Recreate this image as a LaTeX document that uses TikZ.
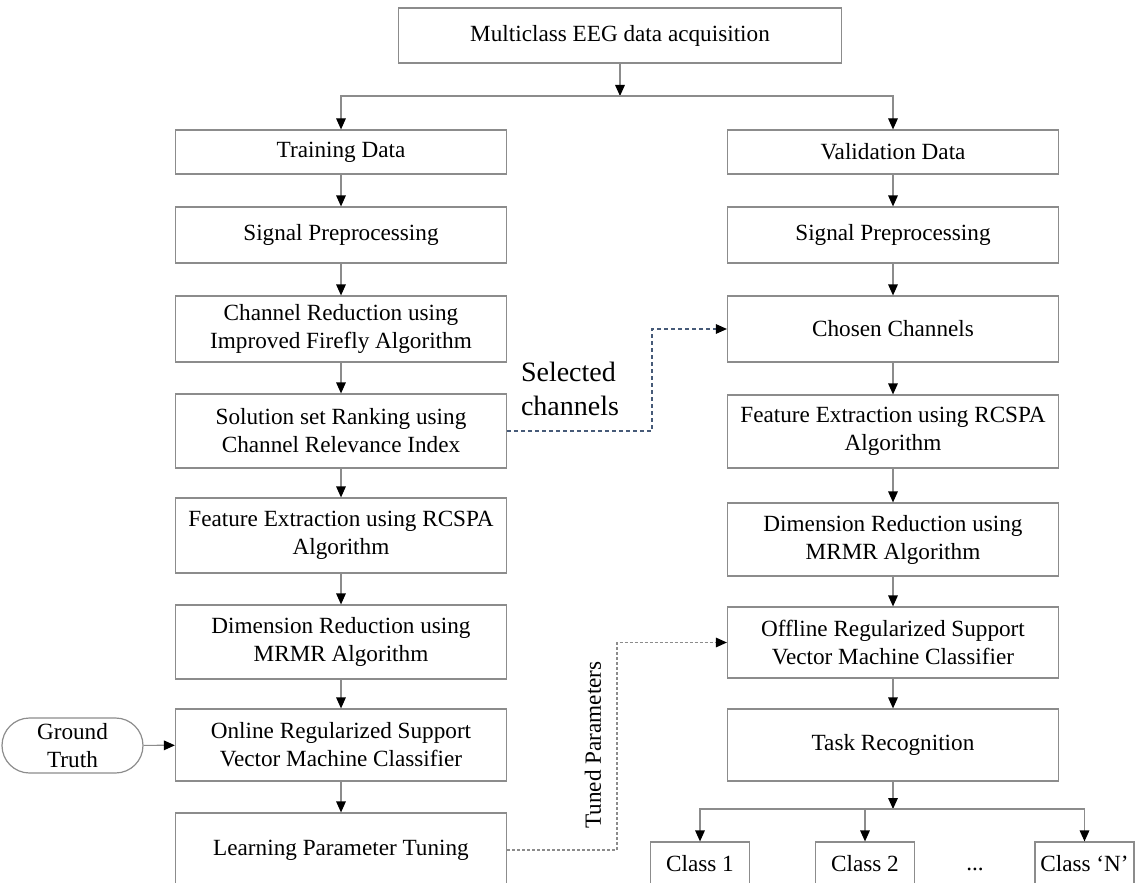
\documentclass[tikz,border=0pt]{standalone}
\usepackage{fontspec}
\setmainfont{Liberation Serif}
\usetikzlibrary{arrows.meta, positioning, shapes.misc}
\definecolor{boxline}{RGB}{140,140,140}
\definecolor{selline}{RGB}{70,90,120}
\tikzset{
	->, % every connector gets a head
	>={Triangle[length=5.5pt,width=4.8pt,color=black]}, % filled black heads
	every node/.style={font=\fontsize{11.6}{14}\selectfont, align=center},
	stage/.style={draw=boxline, line width=0.6pt, inner sep=0pt, minimum width=165.5pt}, % one step of a column
	classbox/.style={draw=boxline, line width=0.6pt, inner sep=0pt, minimum width=49.5pt, minimum height=22pt},
	gtbox/.style={draw=boxline, line width=0.6pt, rounded rectangle, inner sep=0pt, minimum width=70.5pt, minimum height=27.5pt},
	flow/.style={draw=boxline, line width=0.6pt}, % plain arrows
	selflow/.style={draw=selline, line width=0.6pt, dash pattern=on 2pt off 1.5pt},
	tunflow/.style={draw=black!45, line width=0.6pt, dash pattern=on 1.5pt off 1pt},
}
\begin{document}
\begin{tikzpicture}[x=0.5pt, y=-0.5pt]
	\useasboundingbox (0,0) rectangle (1135,883);
	% top
	\node[stage, minimum width=221.5pt, minimum height=27.5pt] (acq) at (620,35.5) {Multiclass EEG data acquisition};
	\coordinate (split) at (620,96);
	% training side
	\node[stage, minimum height=22pt] (TD) at (341,152) {Training Data};
	\node[stage, minimum height=28pt] (SP) at (341,235) {Signal Preprocessing};
	\node[stage, minimum height=33pt] (CR) at (341,329) {Channel Reduction using\\Improved Firefly Algorithm};
	\node[stage, minimum height=37pt] (SR) at (341,431) {Solution set Ranking using\\Channel Relevance Index};
	\node[stage, minimum height=37.5pt] (FE) at (341,535.5) {Feature Extraction using RCSPA\\Algorithm};
	\node[stage, minimum height=37pt] (DR) at (341,642) {Dimension Reduction using\\MRMR Algorithm};
	\node[stage, minimum height=36pt] (ORS) at (341,745) {Online Regularized Support\\Vector Machine Classifier};
	\node[stage, minimum height=37pt] (LPT) at (341,850) {Learning Parameter Tuning};
	\node[gtbox] (GT) at (72.5,745.5) {Ground\\Truth};
	% validation side
	\node[stage, minimum height=22pt] (VD) at (893,152) {Validation Data};
	\node[stage, minimum height=28pt] (SP2) at (893,235) {Signal Preprocessing};
	\node[stage, minimum height=33pt] (CC) at (893,329) {Chosen Channels};
	\node[stage, minimum height=36.5pt] (FE2) at (893,431.5) {Feature Extraction using RCSPA\\Algorithm};
	\node[stage, minimum height=36.5pt] (DR2) at (893,539.5) {Dimension Reduction using\\MRMR Algorithm};
	\node[stage, minimum height=35.5pt] (OFF) at (893,642.5) {Offline Regularized Support\\Vector Machine Classifier};
	\node[stage, minimum height=36pt] (TR) at (893,745) {Task Recognition};
	\coordinate (csplit) at (893,809);
	\node[classbox] (C1) at (700,864) {Class 1};
	\node[classbox] (C2) at (865,864) {Class 2};
	\node[classbox] (CN) at (1084.5,864) {Class `N'};
	\node (dots) at (975,869) {...};
	% labels on the dashed links
	\node[font=\fontsize{14}{17}\selectfont, align=left] (sellab) at (570,389) {Selected\\channels};
	\node[rotate=90] (tunlab) at (593,745) {Tuned Parameters};
	\coordinate (selbend) at (652,329);
	\coordinate (tunbend) at (617,642.5);

	\draw[flow] (acq) -- (split);
	\draw[flow] (split) -| (TD);
	\draw[flow] (split) -| (VD);
	\draw[flow] (TD) edge (SP) (SP) edge (CR) (CR) edge (SR) (SR) edge (FE)
		(FE) edge (DR) (DR) edge (ORS) (ORS) edge (LPT);
	\draw[flow] (VD) edge (SP2) (SP2) edge (CC) (CC) edge (FE2) (FE2) edge (DR2)
		(DR2) edge (OFF) (OFF) edge (TR);
	\draw[flow] (GT) -- (ORS);
	\draw[flow] (TR) -- (csplit);
	\draw[flow] (csplit) -| (C1);
	\draw[flow] (csplit) -| (C2);
	\draw[flow] (csplit) -| (CN);
	\draw[selflow] (SR.east) -| (selbend) -- (CC.west);
	\draw[tunflow] (LPT.east) -| (tunbend) -- (OFF.west);
\end{tikzpicture}
\end{document}
